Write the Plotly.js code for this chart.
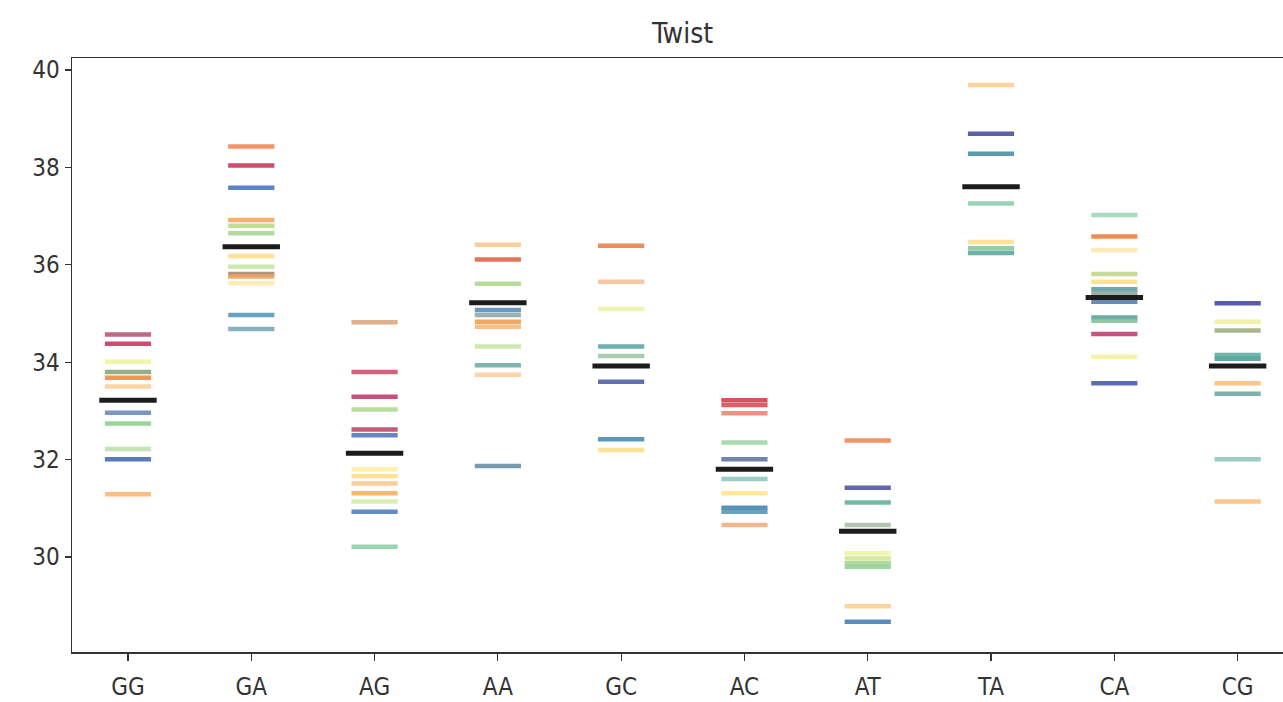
<!DOCTYPE html>
<html>
<head>
<meta charset="utf-8">
<script src="https://cdn.plot.ly/plotly-3.0.1.min.js"></script>
<style>html,body{margin:0;padding:0;background:#fff;}#chart{width:1283px;height:702px;}</style>
</head>
<body>
<div id="chart"></div>
<script>
// Categories (dinucleotide steps)
const categories = ['GG','GA','AG','AA','GC','AC','AT','TA','CA','CG'];

// Twist values per step (degrees)
const GG = [34.57, 34.38, 34.01, 33.80, 33.68, 33.50, 32.96, 32.74, 32.22, 32.01, 31.29];
const GA = [38.43, 38.04, 37.58, 36.92, 36.80, 36.65, 36.18, 35.96, 35.81, 35.76, 35.62, 34.97, 34.68];
const AG = [34.82, 33.80, 33.29, 33.03, 32.62, 32.50, 31.80, 31.66, 31.51, 31.31, 31.14, 30.93, 30.21];
const AA = [36.41, 36.11, 35.61, 35.07, 34.97, 34.83, 34.73, 34.32, 33.94, 33.74, 31.87];
const GC = [36.39, 35.65, 35.09, 34.32, 34.13, 33.60, 32.42, 32.20];
const AC = [33.22, 33.12, 32.95, 32.35, 32.01, 31.60, 31.31, 31.01, 30.93, 30.66];
const AT = [32.39, 31.42, 31.12, 30.66, 30.08, 29.97, 29.87, 29.80, 28.99, 28.67];
const TA = [39.69, 38.69, 38.28, 37.26, 36.47, 36.34, 36.24];
const CA = [37.02, 36.58, 36.30, 35.81, 35.65, 35.50, 35.42, 35.24, 34.92, 34.85, 34.58, 34.11, 33.57];
const CG = [35.21, 34.83, 34.65, 34.15, 34.07, 33.57, 33.35, 32.01, 31.14];

// Mean twist per step
const means = [33.22, 36.37, 32.13, 35.22, 33.92, 31.80, 30.53, 37.60, 35.33, 33.92];

// Line colours (Spectral-like), one per value
const GG_colors = ['#b85a78','#c83a62','#eef3a0','#8aa878','#f08a4a','#fdd09a','#6a8cc0','#8fd08f','#bfe3b0','#4a6fb0','#fbb878'];
const GA_colors = ['#f08a58','#c83a5a','#4a78c0','#f4a860','#b8dc80','#a8d890','#fee08b','#c8e6a8','#a88a70','#f0a060','#fdecb0','#5a9ab8','#7aa8b8'];
const AG_colors = ['#e0a880','#d05070','#c0406a','#b0dc90','#c04a6a','#5a78b8','#fff0a0','#fee08b','#fdc890','#fdae61','#d8ecb0','#5080c0','#90d0a8'];
const AA_colors = ['#f8c890','#e06848','#b0d890','#5a90b8','#90a8b0','#f0a050','#f8b878','#c8e6a8','#70b0a8','#fdd0a0','#6890a8'];
const GC_colors = ['#e8804a','#f8c098','#eef5a8','#60a8a8','#a0c8a8','#5060a8','#4a90a8','#fee08b'];
const AC_colors = ['#d04050','#d85058','#e88878','#a0d8a8','#6078a8','#90c8c0','#fee890','#4a88b0','#5a98b8','#f0b080'];
const AT_colors = ['#f08858','#5058a0','#68b0a0','#a8c0a8','#eef5a0','#d0e898','#a8d890','#98d098','#fdd090','#4a80b8'];
const TA_colors = ['#fdd090','#4a50a0','#4a90a8','#90d0b0','#fee08b','#88c8a0','#60a8a0'];
const CA_colors = ['#a0d8b8','#f08040','#feeab0','#c0d890','#fee08b','#60a0a8','#90a8a0','#5a80b0','#60a0a0','#88c098','#c04070','#f4f4a0','#4a60a8'];
const CG_colors = ['#4a4aa0','#f0f0a0','#a0b080','#60b0a0','#50a098','#fdc080','#70a8a0','#90c8c0','#fdc080'];

const yTicks = [30, 32, 34, 36, 38, 40];

const series = [GG, GA, AG, AA, GC, AC, AT, TA, CA, CG];
const seriesColors = [GG_colors, GA_colors, AG_colors, AA_colors, GC_colors, AC_colors, AT_colors, TA_colors, CA_colors, CG_colors];

const FONT = '"DejaVu Sans Condensed", "DejaVu Sans", sans-serif';

const traces = [];
categories.forEach((cat, i) => {
  traces.push({
    type: 'scatter',
    mode: 'markers',
    x: series[i].map(() => cat),
    y: series[i],
    marker: {
      symbol: 'line-ew',
      size: 33,
      color: seriesColors[i],
      opacity: 0.9,
      line: { width: 4.5, color: seriesColors[i] }
    },
    hoverinfo: 'x+y',
    showlegend: false
  });
});
traces.push({
  type: 'scatter',
  mode: 'markers',
  x: categories,
  y: means,
  marker: {
    symbol: 'line-ew',
    size: 41,
    color: '#1c1c1c',
    line: { width: 5, color: '#1c1c1c' }
  },
  hoverinfo: 'x+y',
  showlegend: false
});

const layout = {
  width: 1283,
  height: 702,
  margin: { l: 72, r: 0, t: 58, b: 50 },
  paper_bgcolor: '#ffffff',
  plot_bgcolor: '#ffffff',
  font: { family: FONT, color: '#333333', size: 24 },
  title: {
    text: 'Twist',
    x: 0.532,
    xanchor: 'center',
    y: 0.953,
    yanchor: 'middle',
    font: { family: FONT, size: 28, color: '#333333' }
  },
  xaxis: {
    type: 'category',
    categoryorder: 'array',
    categoryarray: categories,
    range: [-0.454, 9.368],
    showgrid: false,
    zeroline: false,
    showline: true,
    linecolor: '#333333',
    linewidth: 1.5,
    mirror: true,
    ticks: 'outside',
    ticklen: 7,
    tickwidth: 1.2,
    tickcolor: '#333333',
    ticklabelstandoff: 6,
    tickfont: { family: FONT, size: 24, color: '#333333' }
  },
  yaxis: {
    range: [28.05, 40.246],
    tickvals: yTicks,
    ticktext: yTicks.map(String),
    showgrid: false,
    zeroline: false,
    showline: true,
    linecolor: '#333333',
    linewidth: 1.5,
    ticks: 'outside',
    ticklen: 6,
    tickwidth: 1.2,
    tickcolor: '#333333',
    tickfont: { family: FONT, size: 24, color: '#333333' }
  }
};

Plotly.newPlot('chart', traces, layout, { displayModeBar: false, staticPlot: true });
</script>
</body>
</html>
